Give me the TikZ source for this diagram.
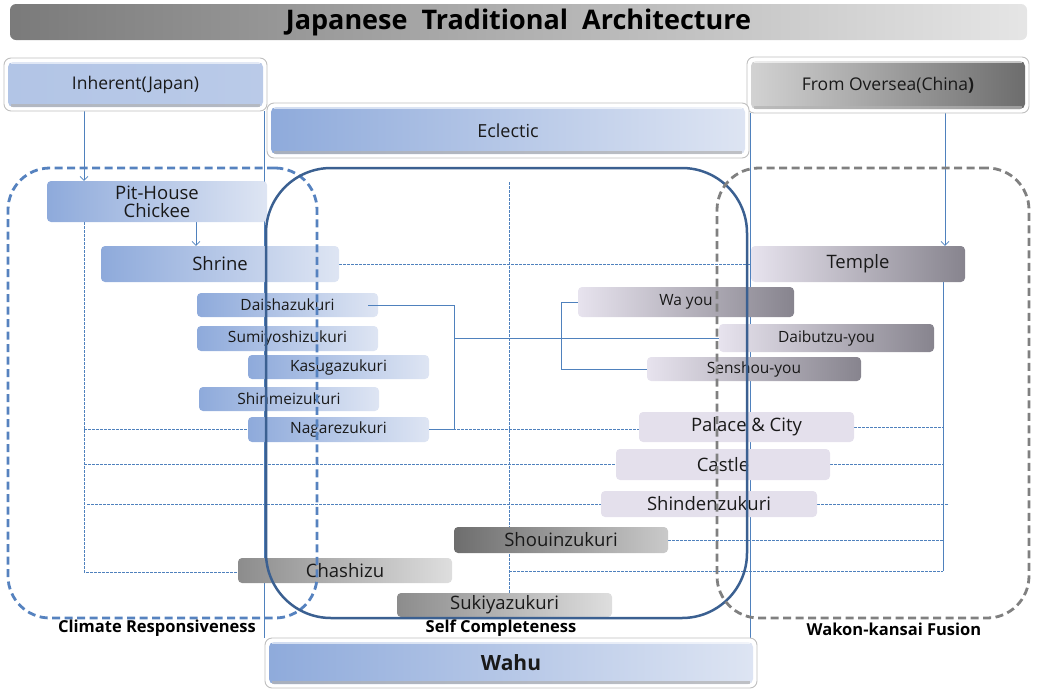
\documentclass[tikz,border=0pt]{standalone}
\usepackage{fontspec}
\setmainfont{Open Sans}
\usetikzlibrary{arrows.meta,calc,backgrounds}
\definecolor{bL}{HTML}{8EAADB}
\definecolor{bR}{HTML}{DEE5F3}
\definecolor{lvL}{HTML}{E7E3EE}
\definecolor{lvR}{HTML}{87848E}
\definecolor{lvF}{HTML}{E4E0EC}
\definecolor{conn}{HTML}{4F81BD}
\definecolor{zoneB}{HTML}{5682BF}
\definecolor{zoneM}{HTML}{3B6091}
\definecolor{zoneG}{HTML}{808080}
\begin{document}
\begin{tikzpicture}[x=1pt,y=-1pt,
  box/.style={rounded corners=4pt, inner sep=0pt, text=black!90},
  bigf/.style={font=\fontsize{18.5}{21}\selectfont},
  smallf/.style={font=\fontsize{15.5}{18}\selectfont},
  bluebox/.style={box, left color=bL, right color=bR},
  lavbox/.style={box, left color=lvL, right color=lvR},
  flatbox/.style={box, fill=lvF},
  darkgray/.style={box, left color=black!57, right color=black!21},
  lightgray/.style={box, left color=black!45, right color=black!13},
  bevel/.style n args={2}{draw=black!25, line width=0.9pt, fill=white, rounded corners=7pt, inner sep=0pt, text=black!90,
    path picture={
      \fill[rounded corners=5pt, left color=#1, right color=#2] ([shift={(4pt,-4pt)}]path picture bounding box.north west) rectangle ([shift={(-4pt,4pt)}]path picture bounding box.south east);
      \draw[black!30, line width=2.2pt, opacity=0.7] ([shift={(7pt,5.5pt)}]path picture bounding box.south west) -- ([shift={(-7pt,5.5pt)}]path picture bounding box.south east);
      \draw[white, line width=1.2pt, opacity=0.6] ([shift={(7pt,-5pt)}]path picture bounding box.north west) -- ([shift={(-7pt,-5pt)}]path picture bounding box.north east);
    }},
  cline/.style={draw=conn, line width=0.7pt},
  dline/.style={draw=conn, line width=0.55pt, dash pattern=on 2.5pt off 1.5pt},
  arr/.style={cline, -{Straight Barb[length=4pt,width=8pt]}},
  zoneL/.style={draw=zoneB, line width=2.8pt, dash pattern=on 8pt off 4.5pt, rounded corners=42pt, inner sep=0pt},
  zoneMid/.style={draw=zoneM, line width=2.5pt, rounded corners=65pt, inner sep=0pt},
  zoneR/.style={draw=zoneG, line width=2.8pt, dash pattern=on 8pt off 4.5pt, rounded corners=42pt, inner sep=0pt},
  lab/.style={font=\bfseries\fontsize{16.5}{19}\selectfont, inner sep=0pt}
]
\useasboundingbox (0,0) rectangle (1037,697);

% title
\node[rounded corners=6pt, left color=black!52, right color=black!10, minimum width=1017pt, minimum height=36pt, inner sep=0pt,
      font=\bfseries\fontsize{27}{30}\selectfont] (title) at (518.5,22) {Japanese\ \ Traditional\ \ Architecture};

% top boxes
\node[bevel={bL!55!bR}{bL!45!bR}, minimum width=263pt, minimum height=53pt, font=\fontsize{17.5}{20}\selectfont] (inh) at (135.5,84.5) {Inherent(Japan)};
\node[bevel={black!17}{black!58}, minimum width=282pt, minimum height=56pt, font=\fontsize{17.5}{20}\selectfont] (ovs) at (888,85) {From Oversea(China\textbf{)}};
\node[bevel={bL}{bR}, minimum width=482pt, minimum height=55pt, font=\fontsize{18}{20}\selectfont] (ecl) at (508,130.5) {Eclectic};

% coordinates
\coordinate (lbot) at (84,572);
\coordinate (a2) at (196,0);
\coordinate (a3) at (945,0);
\coordinate (rv) at (750,0);
\coordinate (bx) at (454,0);
\coordinate (wx) at (561,0);
\coordinate (vmid) at (509,182);
\coordinate (rbot) at (943,571);
\coordinate (lsh) at (87,504);
\coordinate (rsh) at (949,504);

% boxes
\node[bluebox, bigf, minimum width=220pt, minimum height=41pt, align=center] (pit) at (157,201.5) {Pit-House\\[-3pt]Chickee};
\node[bluebox, bigf, minimum width=238pt, minimum height=36pt] (shrine) at (220,264) {Shrine};
\node[bluebox, smallf, minimum width=181pt, minimum height=24pt] (daisha) at (287.5,305) {Daishazukuri};
\node[bluebox, smallf, minimum width=181pt, minimum height=25pt] (sumi) at (287.5,338.5) {Sumiyoshizukuri};
\node[bluebox, smallf, minimum width=181pt, minimum height=24pt] (kasuga) at (338.5,367) {Kasugazukuri};
\node[bluebox, smallf, minimum width=180pt, minimum height=24pt] (shinmei) at (289,399) {Shinmeizukuri};
\node[bluebox, smallf, minimum width=181pt, minimum height=25pt] (nagare) at (338.5,429.5) {Nagarezukuri};
\node[lavbox, bigf, minimum width=214pt, minimum height=36pt] (temple) at (858,264) {Temple};
\node[lavbox, smallf, minimum width=216pt, minimum height=30pt] (wayou) at (686,302) {Wa you};
\node[lavbox, smallf, minimum width=215pt, minimum height=28pt] (daibu) at (826.5,338) {Daibutzu-you};
\node[lavbox, smallf, minimum width=214pt, minimum height=24pt] (senshou) at (754,369) {Senshou-you};
\node[flatbox, bigf, minimum width=215pt, minimum height=30pt] (palace) at (746.5,427) {Palace \& City};
\node[flatbox, bigf, minimum width=214pt, minimum height=31pt] (castle) at (723,464.5) {Castle};
\node[flatbox, bigf, minimum width=216pt, minimum height=26pt] (shinden) at (709,504) {Shindenzukuri};
\node[darkgray, bigf, minimum width=214pt, minimum height=26pt] (shouin) at (561,540) {Shouinzukuri};
\node[lightgray, bigf, minimum width=214pt, minimum height=25pt] (chashi) at (345,570.5) {Chashizu};
\node[lightgray, bigf, minimum width=215pt, minimum height=24pt] (sukiya) at (504.5,605) {Sukiyazukuri};
\node[bevel={bL}{bR}, minimum width=492pt, minimum height=50pt, font=\bfseries\fontsize{21}{24}\selectfont] (wahu) at (511,663) {Wahu};

% connectors behind boxes
\begin{scope}[on background layer]
  \draw[arr] (inh.south -| lbot) -- (pit.north -| lbot);
  \draw[arr] (pit.south -| a2) -- (shrine.north -| a2);
  \draw[arr] (ovs.south -| a3) -- (temple.north -| a3);
  \draw[cline] (inh.south -| wahu.north west) -- (wahu.north west);
  \draw[cline] (ovs.south -| rv) -- (wahu.north -| rv);
  \draw[dline] (shrine.east) -- (temple.west);
  \draw[dline] (vmid) -- (vmid |- sukiya.north);
  \draw[dline] (pit.south -| lbot) -- (lbot) -- (lbot -| chashi.west);
  \draw[dline] (lbot |- nagare.west) -- (nagare.west);
  \draw[dline] (nagare.east) -- (nagare.east -| palace.west);
  \draw[dline] (lbot |- castle.west) -- (castle.west);
  \draw[dline] (lsh) -- (shinden.west);
  \draw[cline] (temple.south -| rbot) -- (rbot);
  \draw[dline] (palace.east) -- (palace.east -| rbot);
  \draw[dline] (castle.east) -- (castle.east -| rbot);
  \draw[dline] (shinden.east) -- (rsh);
  \draw[dline] (shouin.east) -- (shouin.east -| rbot);
  \draw[dline] (vmid |- rbot) -- (rbot);
\end{scope}
\draw[cline] ([xshift=-10pt]daisha.east) -- (daisha.east -| bx) -- (nagare.east -| bx) -- (nagare.east);
\draw[cline] (daibu.west -| bx) -- (daibu.west);
\draw[cline] (wayou.west) -- (wayou.west -| wx) -- (senshou.west -| wx) -- (senshou.west);

% zones
\node[zoneL, minimum width=309pt, minimum height=450pt] (zleft) at (162.5,393) {};
\node[zoneMid, minimum width=481pt, minimum height=450pt] (zmid) at (506.5,393) {};
\node[zoneR, minimum width=312pt, minimum height=450pt] (zright) at (873,393) {};

% zone labels
\node[lab] (lclim) at (157,628) {Climate Responsiveness};
\node[lab] (lself) at (501,628) {Self Completeness};
\node[lab] (lwakon) at (894,629) {Wakon-kansai Fusion};
\end{tikzpicture}
\end{document}
